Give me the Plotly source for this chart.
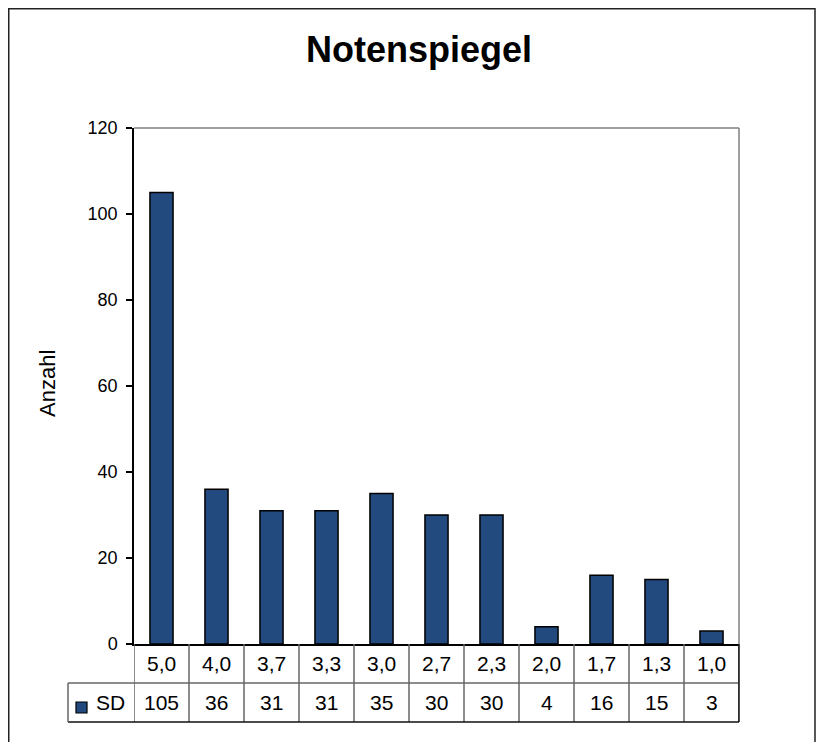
import plotly.graph_objects as go

categories = ["5,0", "4,0", "3,7", "3,3", "3,0", "2,7", "2,3", "2,0", "1,7", "1,3", "1,0"]
values = [105, 36, 31, 31, 35, 30, 30, 4, 16, 15, 3]
series_name = "SD"
y_ticks = [0, 20, 40, 60, 80, 100, 120]
title_text = "Notenspiegel"
y_title = "Anzahl"

W, H = 816, 742
PL, PR, PT, PB = 134, 739, 128, 644
L, T = PL, PT
R, B = W - PR, H - PB
PW = PR - PL
PH = PB - PT
FONT = "Liberation Sans, Arial, sans-serif"
BAR = "#224A7E"
GRID = "#808080"


def px(xp):
    return (xp - PL) / PW


def py(yp):
    return (PB - yp) / PH


row_h = 39
row1 = py(PB + row_h)
row2 = py(PB + 2 * row_h)
idx = list(range(len(categories)))

fig = go.Figure()
fig.add_trace(go.Bar(
    x=idx, y=values, width=0.42, name=series_name,
    marker=dict(color=BAR, line=dict(color="#000000", width=1.5)),
    showlegend=False, hoverinfo="x+y",
))

shapes = []
# outer chart frame
shapes.append(dict(type="rect", xref="paper", yref="paper",
                   x0=px(8.75), x1=px(815), y0=py(770), y1=py(8.75),
                   line=dict(color="#222222", width=1.5)))
# plot area top and right borders
shapes.append(dict(type="line", xref="paper", yref="paper", x0=0, x1=1, y0=1, y1=1,
                   line=dict(color=GRID, width=1.5)))
shapes.append(dict(type="line", xref="paper", yref="paper", x0=1, x1=1, y0=0, y1=1,
                   line=dict(color=GRID, width=1.5)))

# data table: vertical separators at category boundaries
for i in range(len(categories) + 1):
    shapes.append(dict(type="line", xref="x", yref="paper",
                       x0=i - 0.5, x1=i - 0.5, y0=row2, y1=0,
                       line=dict(color="#666666", width=1.5)))
# horizontal lines
shapes.append(dict(type="line", xref="paper", yref="paper", x0=px(68), x1=1,
                   y0=row1, y1=row1, line=dict(color="#666666", width=1.5)))
shapes.append(dict(type="line", xref="paper", yref="paper", x0=px(68), x1=1,
                   y0=row2, y1=row2, line=dict(color="#111111", width=1.5)))
# legend key cell
shapes.append(dict(type="line", xref="paper", yref="paper", x0=px(68), x1=px(68),
                   y0=row2, y1=row1, line=dict(color="#666666", width=1.5)))
shapes.append(dict(type="line", xref="paper", yref="paper", x0=1, x1=1,
                   y0=row2, y1=0, line=dict(color="#111111", width=1.5)))
shapes.append(dict(type="rect", xref="paper", yref="paper",
                   x0=px(76), x1=px(87), y0=py(713), y1=py(702),
                   fillcolor=BAR, line=dict(color="#000000", width=1.2)))

annotations = []
for i, (c, v) in enumerate(zip(categories, values)):
    annotations.append(dict(x=i, y=(0 + row1) / 2, xref="x", yref="paper", text=c,
                            showarrow=False, xanchor="center", yanchor="middle",
                            font=dict(family=FONT, size=21, color="#000")))
    annotations.append(dict(x=i, y=(row1 + row2) / 2, xref="x", yref="paper", text=str(v),
                            showarrow=False, xanchor="center", yanchor="middle",
                            font=dict(family=FONT, size=21, color="#000")))
annotations.append(dict(x=px(94), y=(row1 + row2) / 2, xref="paper", yref="paper",
                        text=series_name, showarrow=False, xanchor="left", yanchor="middle",
                        font=dict(family=FONT, size=21, color="#000")))
annotations.append(dict(x=px(47), y=py(384), xref="paper", yref="paper", text=y_title,
                        textangle=-90, showarrow=False, xanchor="center", yanchor="middle",
                        font=dict(family=FONT, size=22, color="#000")))
annotations.append(dict(x=px(418.5), y=py(50), xref="paper", yref="paper",
                        text=f"<b>{title_text}</b>", showarrow=False,
                        xanchor="center", yanchor="middle",
                        font=dict(family=FONT, size=36, color="#000")))

fig.update_layout(
    width=W, height=H,
    margin=dict(l=L, r=R, t=T, b=B, autoexpand=False),
    paper_bgcolor="white", plot_bgcolor="white",
    xaxis=dict(range=[-0.5, len(categories) - 0.5], showticklabels=False, ticks="",
               showgrid=False, zeroline=False, showline=True, linecolor="#000000",
               linewidth=1.5, fixedrange=True),
    yaxis=dict(range=[0, 120], tickvals=y_ticks, ticks="outside", ticklen=6,
               tickcolor="#000", tickwidth=1.5, showgrid=False, zeroline=False,
               showline=True, linecolor="#000000", linewidth=1.5,
               tickfont=dict(family=FONT, size=18, color="#000"), ticklabelstandoff=5,
               automargin=False),
    shapes=shapes, annotations=annotations, showlegend=False, bargap=0.2,
)

fig.write_html(
    "out.html",
    config={"displayModeBar": False},
    post_script="document.body.style.margin='0';"
                "document.documentElement.style.overflow='hidden';"
                "document.body.style.overflow='hidden';",
)
